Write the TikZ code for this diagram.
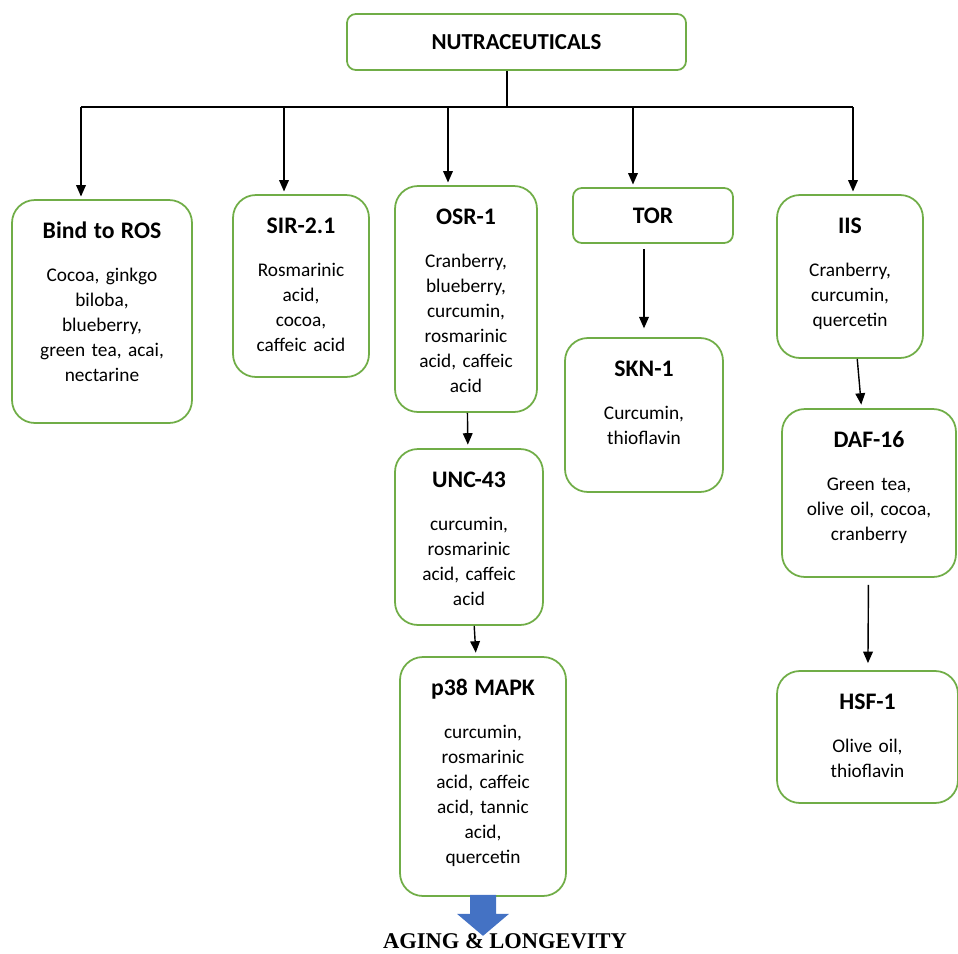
\documentclass[tikz,border=0pt]{standalone}
\usepackage{fontspec}
\setmainfont{Carlito}
\newfontfamily\agingfont{Liberation Serif}
\usepackage{xcolor}
\usetikzlibrary{arrows.meta}
\definecolor{boxgreen}{RGB}{112,173,71}
\definecolor{arrowblue}{RGB}{68,114,196}
\newcommand{\headfont}{\fontsize{13.5}{16}\selectfont\bfseries}
\newcommand{\listfont}{\fontsize{11}{14.2}\selectfont}

\begin{document}
\begin{tikzpicture}[x=0.02cm, y=-0.02cm,
  card/.style={draw=boxgreen, line width=1pt, rounded corners=13pt, align=center, inner sep=0pt, text height=0.76cm, font=\listfont},
  tab/.style={draw=boxgreen, line width=1pt, rounded corners=5pt, inner sep=0pt, font=\headfont},
  link/.style={line width=0.8pt, -{Triangle[length=6.5pt,width=5.5pt]}}]
\useasboundingbox (0,0) rectangle (958,954);

\node[tab, minimum width=6.78cm, minimum height=1.12cm, font=\fontsize{13}{16}\selectfont\bfseries] (nut) at (516.5,42) {NUTRACEUTICALS};

\node[card, text width=3.6cm, text depth=3.70cm] (ros) at (102,311.5) {{\headfont Bind to ROS}\\[10.8pt]Cocoa, ginkgo\\biloba,\\blueberry,\\green tea, acai,\\nectarine};
\node[card, text width=2.72cm, text depth=2.88cm] (sir) at (301,286) {{\headfont SIR-2.1}\\[10.8pt]Rosmarinic\\acid,\\cocoa,\\caffeic acid};
\node[card, text width=2.84cm, text depth=3.76cm] (osr) at (466,299) {{\headfont OSR-1}\\[10.8pt]Cranberry,\\blueberry,\\curcumin,\\rosmarinic\\acid, caffeic\\acid};
\node[tab, minimum width=3.2cm, minimum height=1.1cm] (tor) at (653,215.5) {TOR};
\node[card, text width=2.92cm, text depth=2.50cm] (iis) at (850,276.5) {{\headfont IIS}\\[10.8pt]Cranberry,\\curcumin,\\quercetin};

\node[card, text width=3.16cm, text depth=2.32cm] (skn) at (644,415) {{\headfont SKN-1}\\[10.8pt]Curcumin,\\thioflavin};
\node[card, text width=2.96cm, text depth=2.76cm] (unc) at (469,537) {{\headfont UNC-43}\\[10.8pt]curcumin,\\rosmarinic\\acid, caffeic\\acid};
\node[card, text width=3.32cm, text depth=4.02cm] (p38) at (483,776.5) {{\headfont p38 MAPK}\\[10.8pt]curcumin,\\rosmarinic\\acid, caffeic\\acid, tannic\\acid,\\quercetin};
\node[card, text width=3.48cm, text depth=2.60cm] (daf) at (869,493) {{\headfont DAF-16}\\[10.8pt]Green tea,\\olive oil, cocoa,\\cranberry};
\node[card, text width=3.62cm, text depth=1.88cm] (hsf) at (867.5,737) {{\headfont HSF-1}\\[10.8pt]Olive oil,\\thioflavin};

\node[inner sep=0pt, font=\agingfont\bfseries\fontsize{12.8}{15}\selectfont] (aging) at (505,941.5) {AGING \& LONGEVITY};

\coordinate (hub) at (507,107);
\coordinate (tROS) at (81,107);
\coordinate (tSIR) at (284,107);
\coordinate (tOSR) at (448,107);
\coordinate (tTOR) at (633,107);
\coordinate (tIIS) at (853,107);

\draw[line width=0.8pt] (nut.south -| hub) -- (hub);
\draw[line width=0.8pt] (tROS) -- (tIIS);
\draw[link, shorten >=1.5pt] (tROS) -- (tROS |- ros.north);
\draw[link, shorten >=1.5pt] (tSIR) -- (tSIR |- sir.north);
\draw[link, shorten >=1.5pt] (tOSR) -- (tOSR |- osr.north);
\draw[link, shorten >=1.5pt] (tTOR) -- (tTOR |- tor.north);
\draw[link, shorten >=1.5pt] (tIIS) -- (tIIS |- iis.north);

\draw[link, shorten >=2pt] (osr) -- (unc);
\draw[link, shorten >=2pt] (unc) -- (p38);
\draw[link, shorten <=3pt, shorten >=5pt] (tor.south -| skn.north) -- (skn.north);
\draw[link, shorten >=2pt] (iis) -- (daf);
\draw[link, shorten <=4pt, shorten >=4pt] (daf) -- (hsf);

\fill[arrowblue, shift={(p38.south)}] (-13,-2) -- (13,-2) -- (13,17) -- (26,17) -- (0,39) -- (-26,17) -- (-13,17) -- cycle;
\end{tikzpicture}
\end{document}
